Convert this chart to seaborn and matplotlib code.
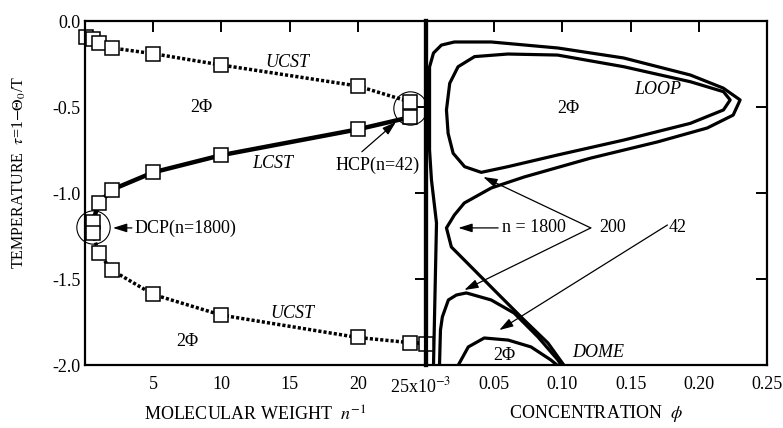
import numpy as np
import pandas as pd
import matplotlib
matplotlib.use("Agg")
import matplotlib.pyplot as plt
import matplotlib.transforms as mtransforms
import seaborn as sns

# ---------------- data ----------------
# left panel: critical temperatures vs inverse chain length (x in 10^-3)
ucst_up_x = [0.1, 0.56, 1, 2, 5, 10, 20, 23.8]
ucst_up_t = [-0.093, -0.105, -0.128, -0.157, -0.19, -0.256, -0.378, -0.47]
lcst_x = [0.56, 1, 2, 5, 10, 20, 23.8]
lcst_t = [-1.17, -1.06, -0.98, -0.88, -0.78, -0.63, -0.56]
ucst_lo_x = [0.56, 1, 2, 5, 10, 20, 23.8, 25]
ucst_lo_t = [-1.23, -1.35, -1.45, -1.59, -1.71, -1.84, -1.87, -1.875]

# right panel: binodal curves (phi, tau)
n1800_phi = [0.0055, 0.0077, 0.004, 0.0026, 0.0026, 0.0026, 0.0055, 0.0113, 0.0208,
             0.0478, 0.0967, 0.1449, 0.1938, 0.2179, 0.2303, 0.2252, 0.2062, 0.1697,
             0.1208, 0.0719, 0.0478, 0.0281, 0.0208, 0.015, 0.0186, 0.0354, 0.0551,
             0.0719, 0.0894, 0.101]
n1800_tau = [-2.0, -1.174, -0.924, -0.75, -0.46, -0.267, -0.186, -0.14, -0.122,
             -0.122, -0.157, -0.215, -0.314, -0.39, -0.459, -0.547, -0.622, -0.703,
             -0.797, -0.907, -0.971, -1.058, -1.128, -1.203, -1.314, -1.448, -1.605,
             -1.738, -1.872, -2.0]
loop200_phi = [0.015, 0.0174, 0.0235, 0.0356, 0.06, 0.0965, 0.1451, 0.1938, 0.2181,
               0.223, 0.2181, 0.1938, 0.1451, 0.0965, 0.06, 0.0405, 0.0283, 0.0199,
               0.0162, 0.015]
loop200_tau = [-0.517, -0.362, -0.266, -0.207, -0.192, -0.198, -0.266, -0.353, -0.411,
               -0.459, -0.517, -0.595, -0.692, -0.779, -0.847, -0.880, -0.847, -0.769,
               -0.653, -0.517]
dome200_phi = [0.0099, 0.0106, 0.012, 0.0164, 0.0223, 0.0296, 0.0478, 0.0646, 0.0821,
               0.0967, 0.099]
dome200_tau = [-2.0, -1.797, -1.72, -1.622, -1.593, -1.581, -1.622, -1.698, -1.837,
               -1.971, -2.0]
dome42_phi = [0.0237, 0.031, 0.0427, 0.0602, 0.077, 0.0916, 0.0975]
dome42_tau = [-2.0, -1.895, -1.843, -1.855, -1.895, -1.971, -2.01]

left_xticks = [5, 10, 15, 20, 25]
left_xticklabels = ["5", "10", "15", "20", r"25x10$^{-3}$"]
right_xticks = [0.05, 0.10, 0.15, 0.20, 0.25]
right_xticklabels = ["0.05", "0.10", "0.15", "0.20", "0.25"]
yticks = [0.0, -0.5, -1.0, -1.5, -2.0]
yticklabels = ["0.0", "-0.5", "-1.0", "-1.5", "-2.0"]

# ---------------- style ----------------
sns.set_theme(style="white")
plt.rcParams["font.family"] = ["Liberation Serif", "DejaVu Serif"]
plt.rcParams["mathtext.fontset"] = "stix"
plt.rcParams["axes.unicode_minus"] = False
FS = 13

fig = plt.figure(figsize=(7.83, 4.28), dpi=100)
W, H = 783, 428
axL = fig.add_axes([85 / W, (H - 365) / H, 341 / W, 344 / H])
axR = fig.add_axes([426 / W, (H - 365) / H, 341 / W, 344 / H])
axL.set_zorder(3)
axL.patch.set_visible(False)

mk = dict(marker="s", markersize=9.5, markerfacecolor="white",
          markeredgecolor="black", markeredgewidth=1.1)

sns.lineplot(x=ucst_up_x, y=ucst_up_t, ax=axL, color="black", sort=False,
             estimator=None, lw=2.5, linestyle=(0, (0.9, 0.6)), **mk)
sns.lineplot(x=lcst_x, y=lcst_t, ax=axL, color="black", sort=False,
             estimator=None, lw=3.2, **mk)
sns.lineplot(x=ucst_lo_x, y=ucst_lo_t, ax=axL, color="black", sort=False,
             estimator=None, lw=2.5, linestyle=(0, (0.9, 0.6)), **mk)
for line in axL.lines:
    line.set_clip_on(False)

# circles around DCP / HCP
axL.plot([0.62], [-1.20], marker="o", markersize=24, markerfacecolor="none",
         markeredgecolor="black", markeredgewidth=0.8, clip_on=False)
axL.plot([23.8], [-0.505], marker="o", markersize=24, markerfacecolor="none",
         markeredgecolor="black", markeredgewidth=0.8, clip_on=False)

for phi, tau in [(n1800_phi, n1800_tau), (loop200_phi, loop200_tau),
                 (dome200_phi, dome200_tau), (dome42_phi, dome42_tau)]:
    sns.lineplot(x=phi, y=tau, ax=axR, color="black", sort=False,
                 estimator=None, lw=2.3)

# ---------------- axes ----------------
for ax in (axL, axR):
    ax.set_ylim(-2.0, 0.0)
    for s in ax.spines.values():
        s.set_linewidth(1.6)
        s.set_color("black")
    ax.tick_params(direction="in", length=8, width=1.4, top=True, right=True,
                   labelsize=FS, colors="black")

axL.set_xlim(0, 25)
axR.set_xlim(0, 0.25)
axL.spines["right"].set_linewidth(3.0)
axR.spines["left"].set_linewidth(3.0)

axL.set_xticks(left_xticks)
axL.set_xticklabels(left_xticklabels)
axL.set_yticks(yticks)
axL.set_yticklabels(yticklabels)
axL.tick_params(axis="x", pad=8)
axL.tick_params(axis="y", pad=3)
# shift the combined "25x10^-3" label slightly left, as in the original
lab25 = axL.get_xticklabels()[-1]
lab25.set_transform(lab25.get_transform() +
                    mtransforms.ScaledTranslation(-0.05, 0, fig.dpi_scale_trans))

axR.set_xticks(right_xticks)
axR.set_xticklabels(right_xticklabels)
axR.set_yticks(yticks)
axR.set_yticklabels([])
axR.tick_params(axis="x", pad=8)

axL.set_xlabel(r"MOLECULAR WEIGHT  $n^{-1}$", fontsize=FS, labelpad=7, color="black")
axR.set_xlabel(r"CONCENTRATION  $\phi$", fontsize=FS, labelpad=7, color="black")
axL.set_ylabel(r"TEMPERATURE  $\tau$=1$-\Theta_0$/T", fontsize=11.5, color="black")
axL.yaxis.set_label_coords(-0.167, 0.56)
axR.set_ylabel("")
axL.set_title("")
axR.set_title("")

# ---------------- texts ----------------
tk = dict(fontsize=FS, color="black", ha="center", va="center")
it = dict(tk, style="italic")
axL.text(8.56, -0.5, "2Φ", **tk)
axL.text(14.85, -0.244, "UCST", **it)
axL.text(13.75, -0.826, "LCST", **it)
axL.text(15.2, -1.70, "UCST", **it)
axL.text(7.53, -1.866, "2Φ", **tk)
axL.text(18.4, -0.837, "HCP(n=42)", fontsize=FS, color="black", ha="left", va="center")
axL.text(3.66, -1.203, "DCP(n=1800)", fontsize=FS, color="black", ha="left", va="center")

ap = dict(arrowstyle="-|>,head_length=0.7,head_width=0.22", color="black", lw=0.9,
          shrinkA=0, shrinkB=0)
axL.annotate("", xy=(22.8, -0.587), xytext=(20.3, -0.76), arrowprops=ap)
axL.annotate("", xy=(2.05, -1.203), xytext=(3.44, -1.203), arrowprops=ap)

axR.text(0.104, -0.506, "2Φ", **tk)
axR.text(0.1696, -0.401, "LOOP", **it)
axR.text(0.0573, -1.942, "2Φ", **tk)
axR.text(0.126, -1.93, "DOME", **it)
axR.text(0.0788, -1.203, "n = 1800", **tk)
axR.text(0.137, -1.203, "200", **tk)
axR.text(0.1843, -1.203, "42", **tk)
axR.annotate("", xy=(0.0237, -1.203), xytext=(0.0529, -1.203), arrowprops=ap)
axR.annotate("", xy=(0.042, -0.907), xytext=(0.1208, -1.203), arrowprops=ap)
axR.annotate("", xy=(0.0281, -1.564), xytext=(0.1208, -1.203), arrowprops=ap)
axR.annotate("", xy=(0.0537, -1.797), xytext=(0.177, -1.186), arrowprops=ap)

fig.savefig("out.png", dpi=100)
